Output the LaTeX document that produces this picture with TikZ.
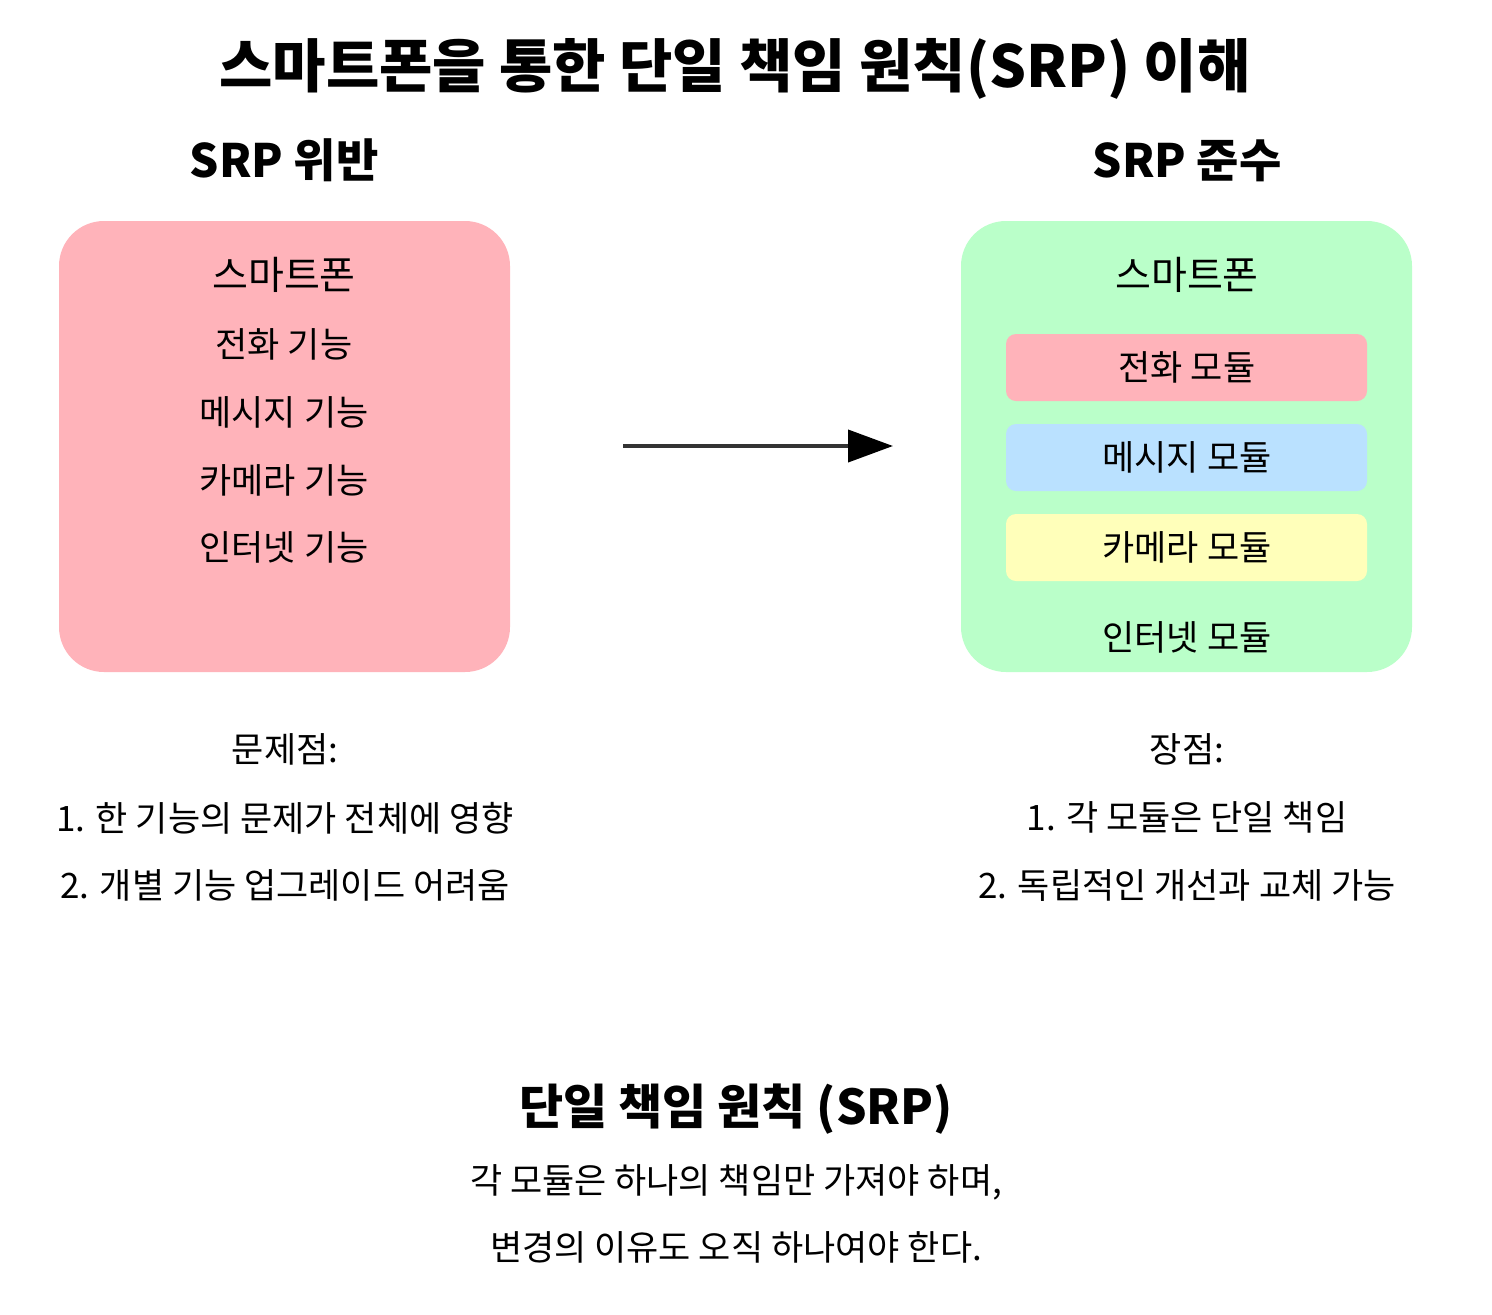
\documentclass[tikz,border=0pt]{standalone}
\usepackage{fontspec}
\setmainfont{Noto Sans CJK KR}
\newfontfamily\kr{Noto Sans CJK KR}
\usetikzlibrary{arrows.meta}
\definecolor{pinkf}{HTML}{FFB3BA}
\definecolor{greenf}{HTML}{BAFFC9}
\definecolor{bluef}{HTML}{BAE1FF}
\definecolor{yellowf}{HTML}{FFFFBA}
\definecolor{arrowc}{HTML}{333333}
\tikzset{
  txt/.style={inner sep=0pt, anchor=base, font=\kr\fontsize{#1}{#1}\selectfont},
  txt/.default=35,
  btxt/.style={inner sep=0pt, anchor=base, font=\kr\bfseries\fontsize{#1}{#1}\selectfont},
  bigbox/.style={rounded corners=45pt, draw=none},
  modbox/.style={rounded corners=10pt, draw=none},
}
\begin{document}
\begin{tikzpicture}[x=1pt,y=-1pt]
\useasboundingbox (0,0) rectangle (1492,1315);
\fill[white] (0,0) rectangle (1492,1315);
% title (baseline = glyph centre + 0.39*size)
\node[btxt=58] (title) at (735,87.6) {스마트폰을 통한 단일 책임 원칙(SRP) 이해};
\node[btxt=46] (lefth) at (284,177) {SRP 위반};
\node[btxt=46] (righth) at (1187,177) {SRP 준수};
% left box
\fill[pinkf, bigbox] (59,221) rectangle (510,672);
\node[txt=39] (l0) at (284,289) {스마트폰};
\node[txt] (l1) at (284,357.7) {전화 기능};
\node[txt] (l2) at (284,425.7) {메시지 기능};
\node[txt] (l3) at (284,493.7) {카메라 기능};
\node[txt] (l4) at (284,560.7) {인터넷 기능};
% right box
\fill[greenf, bigbox] (961,221) rectangle (1412,672);
\node[txt=39] (r0) at (1187,289) {스마트폰};
\fill[pinkf, modbox] (1006,334) rectangle (1367,401);
\node[txt] (m1) at (1187,380.7) {전화 모듈};
\fill[bluef, modbox] (1006,424) rectangle (1367,491);
\node[txt] (m2) at (1187,470.7) {메시지 모듈};
\fill[yellowf, modbox] (1006,514) rectangle (1367,581);
\node[txt] (m3) at (1187,560.7) {카메라 모듈};
\node[txt] (m4) at (1187,650.7) {인터넷 모듈};
% arrow
\coordinate (as) at (623,446);
\coordinate (ae) at (893,446);
\draw[arrowc, line width=4pt, -{Triangle[length=45pt,width=32pt,fill=black,color=black]}] (as) -- (ae);
% problems
\node[txt] (p0) at (285,762.7) {문제점:};
\node[txt] (p1) at (285,831.7) {1. 한 기능의 문제가 전체에 영향};
\node[txt] (p2) at (285,898.7) {2. 개별 기능 업그레이드 어려움};
% advantages
\node[txt] (a0) at (1187,762.7) {장점:};
\node[txt] (a1) at (1187,830.7) {1. 각 모듈은 단일 책임};
\node[txt] (a2) at (1187,898.7) {2. 독립적인 개선과 교체 가능};
% bottom
\node[btxt=48] (srp) at (736,1124.7) {단일 책임 원칙 (SRP)};
\node[txt] (d1) at (736,1193.7) {각 모듈은 하나의 책임만 가져야 하며,};
\node[txt] (d2) at (736,1260.7) {변경의 이유도 오직 하나여야 한다.};
\end{tikzpicture}
\end{document}
